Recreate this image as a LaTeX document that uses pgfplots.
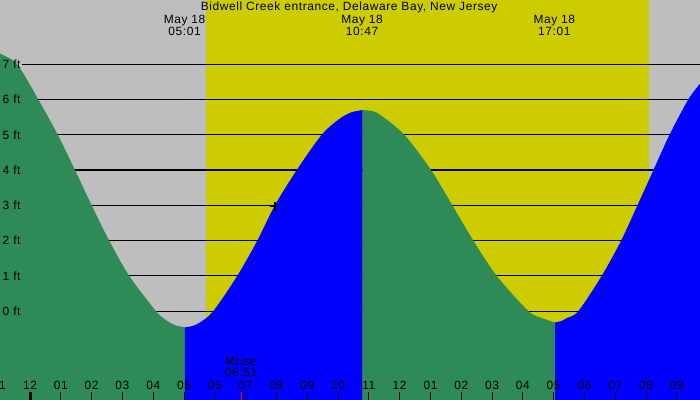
\documentclass[border=0pt]{standalone}
\usepackage{fontspec}
\setmainfont{Liberation Sans}[LetterSpace=5]
\usepackage{pgfplots}
\pgfplotsset{compat=1.18}

\definecolor{night}{HTML}{BEBEBE}
\definecolor{daylight}{HTML}{CCCC00}
\definecolor{ebb}{HTML}{2E8B57}
\definecolor{flood}{HTML}{0000FF}

\newcommand{\lbl}{\fontsize{12}{12}\selectfont}

\begin{document}
\begin{tikzpicture}[font=\lbl]
\begin{axis}[
    at={(0,0)}, anchor=south west,
    scale only axis,
    width=700bp, height=400bp,
    xmin=-0.974, xmax=21.75,
    ymin=-2.52, ymax=8.82,
    axis y line=none,
    axis x line*=bottom,
    x axis line style={draw=none},
    xtick={0,...,21},
    xticklabels={12,01,02,03,04,05,06,07,08,09,10,11,12,01,02,03,04,05,06,07,08,09},
    tick align=inside,
    major tick length=8bp,
    x tick style={black, line width=1bp},
    xticklabel style={font=\lbl, anchor=base, yshift=10bp},
    axis background/.style={fill=night},
    axis on top=true,
    clip=true,
]

% daylight band
\addplot[fill=daylight, draw=none] coordinates {(5.71,-3) (5.71,10) (20.10,10) (20.10,-3)} -- cycle;

% height lines (under the tide)
\pgfplotsinvokeforeach{0,...,7}{
    \draw[black, line width=1.1bp] (axis cs:-0.26,#1) -- (axis cs:22,#1);
}

% tide curve (hours from midnight May 18, feet), falling = green, rising = blue
\addplot[fill=ebb, draw=none, smooth] coordinates {
    (-1.10,7.40) (-0.974,7.30) (-0.42,7.00) (0.27,6.00) (0.90,5.00) (1.46,4.00) (2.00,3.00)
    (2.57,2.00) (3.22,1.00) (4.09,0.00) (4.44,-0.27) (4.75,-0.41) (5.03,-0.46)
} -- (axis cs:5.03,-3) -- (axis cs:-1.10,-3) -- cycle;
\addplot[fill=flood, draw=none, smooth] coordinates {
    (5.03,-0.46) (5.28,-0.42) (5.52,-0.32) (5.95,0.00) (6.73,1.00) (7.38,2.00) (7.95,3.00) (8.66,4.00)
    (9.47,5.00) (10.06,5.46) (10.45,5.64) (10.80,5.70)
} -- (axis cs:10.80,-3) -- (axis cs:5.03,-3) -- cycle;
\addplot[fill=ebb, draw=none, smooth] coordinates {
    (10.80,5.70) (11.10,5.67) (11.36,5.57) (12.15,5.00) (13.02,4.00) (13.71,3.00) (14.39,2.00) (15.15,1.00)
    (16.18,0.00) (16.67,-0.21) (16.88,-0.28) (17.05,-0.32)
} -- (axis cs:17.05,-3) -- (axis cs:10.80,-3) -- cycle;
\addplot[fill=flood, draw=none, smooth] coordinates {
    (17.05,-0.32) (17.25,-0.28) (17.42,-0.20) (17.80,0.00) (18.56,1.00) (19.19,2.00) (19.72,3.00) (20.24,4.00)
    (20.76,5.00) (21.37,6.00) (21.75,6.45) (21.90,6.62)
} -- (axis cs:21.90,-3) -- (axis cs:17.05,-3) -- cycle;

% height labels (over the tide)
\pgfplotsinvokeforeach{0,...,7}{
    \node[anchor=west, inner sep=0, xshift=2.5bp, font=\lbl] at (axis cs:-0.974,#1) {#1 ft};
}

% current time marker
\addplot[only marks, mark=+, mark size=4.5bp, line width=1.5bp, black] coordinates {(7.95,2.97)};

% midnight and moonrise ticks, and the clipped 11 on the left
\draw[black, line width=3bp] (axis cs:0,-2.52) -- ++(0pt,8bp);
\draw[red, line width=1bp] (axis cs:6.85,-2.52) -- ++(0pt,8bp);
\node[anchor=base] at (axis cs:-1,-2.52) [yshift=10bp] {11};

% title and tide times
\node[anchor=base] at (axis cs:10.36,8.82) [yshift=-11bp] {Bidwell Creek entrance, Delaware Bay, New Jersey};
\node[anchor=base] at (axis cs:5.017,8.82) [yshift=-24bp] {May 18};
\node[anchor=base] at (axis cs:5.017,8.82) [yshift=-36bp] {05:01};
\node[anchor=base] at (axis cs:10.78,8.82) [yshift=-24bp] {May 18};
\node[anchor=base] at (axis cs:10.78,8.82) [yshift=-36bp] {10:47};
\node[anchor=base] at (axis cs:17.02,8.82) [yshift=-24bp] {May 18};
\node[anchor=base] at (axis cs:17.02,8.82) [yshift=-36bp] {17:01};

% moonrise
\node[anchor=base] at (axis cs:6.85,-2.52) [yshift=34bp] {Mrise};
\node[anchor=base] at (axis cs:6.85,-2.52) [yshift=23bp] {06:51};

\end{axis}
\pgfresetboundingbox
\path (0,0) rectangle (700bp,400bp);
\end{tikzpicture}
\end{document}
